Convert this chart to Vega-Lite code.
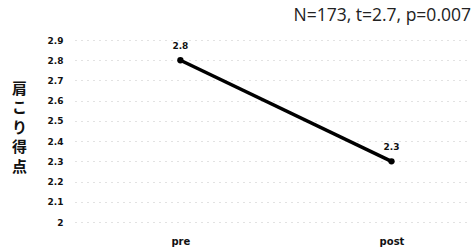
{
  "$schema": "https://vega.github.io/schema/vega-lite/v6.json",
  "width": 396,
  "height": 182,
  "autosize": {"type": "none"},
  "padding": {"left": 75, "top": 40, "right": 4, "bottom": 27},
  "background": "white",
  "title": {
    "text": "N=173, t=2.7, p=0.007",
    "anchor": "end",
    "font": "Open Sans",
    "fontSize": 17.5,
    "fontWeight": "normal",
    "color": "#222",
    "offset": 12
  },
  "data": {
    "values": [
      {"phase": "pre", "score": 2.8},
      {"phase": "post", "score": 2.3}
    ]
  },
  "encoding": {
    "x": {
      "field": "phase",
      "type": "ordinal",
      "sort": ["pre", "post"],
      "scale": {"type": "point", "padding": 0.438, "align": 0.57},
      "axis": {
        "title": null,
        "labelAngle": 0,
        "domain": false,
        "ticks": false,
        "labelFont": "DejaVu Sans",
        "labelFontSize": 10,
        "labelFontWeight": "bold",
        "labelColor": "#111",
        "labelPadding": 14
      }
    },
    "y": {
      "field": "score",
      "type": "quantitative",
      "scale": {"domain": [2, 2.9], "nice": false, "zero": false},
      "axis": {
        "values": [2, 2.1, 2.2, 2.3, 2.4, 2.5, 2.6, 2.7, 2.8, 2.9],
        "format": "~g",
        "domain": false,
        "ticks": false,
        "grid": true,
        "gridColor": "#c4c4c4",
        "gridDash": [1, 5],
        "gridWidth": 1,
        "labelFont": "DejaVu Sans",
        "labelFontSize": 9,
        "labelFontWeight": "bold",
        "labelColor": "#111",
        "labelPadding": 12,
        "title": ["肩", "こ", "り", "得", "点"],
        "titleFont": "Noto Sans CJK JP",
        "titleFontSize": 15,
        "titleFontWeight": "bold",
        "titleColor": "#111",
        "titleAngle": 0,
        "titleAlign": "center",
        "titleBaseline": "top",
        "titleLineHeight": 19.5,
        "titleX": -56,
        "titleY": 41
      }
    }
  },
  "layer": [
    {"mark": {"type": "line", "color": "#000", "strokeWidth": 3.5}},
    {"mark": {"type": "point", "filled": true, "color": "#000", "size": 40, "opacity": 1}},
    {
      "mark": {"type": "text", "dy": -14, "font": "DejaVu Sans", "fontSize": 9, "fontWeight": "bold", "color": "#111"},
      "encoding": {"text": {"field": "score", "type": "quantitative", "format": ".1f"}}
    }
  ],
  "config": {"view": {"stroke": null}}
}
